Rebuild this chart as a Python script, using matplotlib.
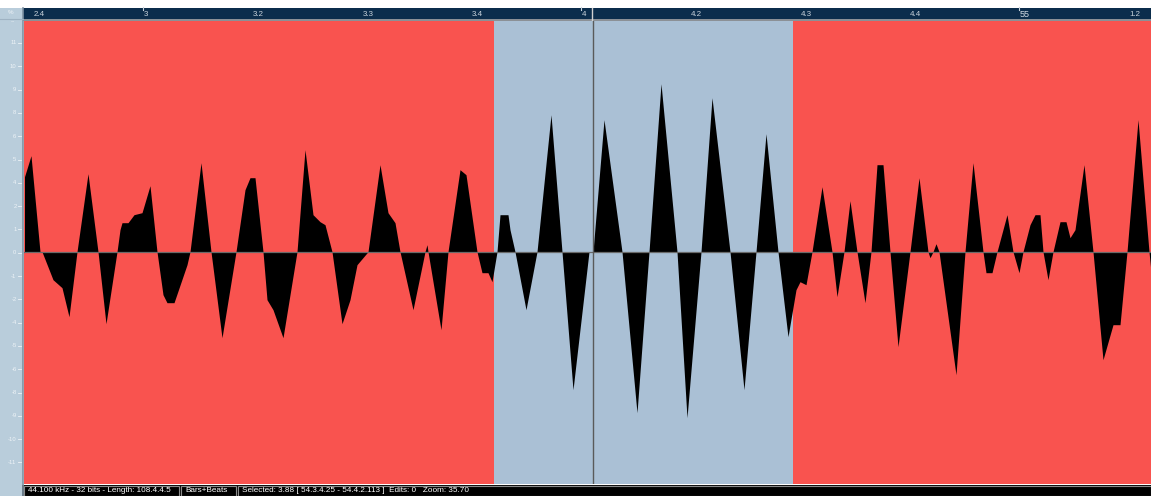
import numpy as np
import matplotlib.pyplot as plt
from matplotlib.patches import Rectangle

W, H = 1151, 496

# waveform outline: display column, level (px above zero line)
wave_col = [24.5, 31, 40, 42, 53, 62, 69, 77, 88, 98, 106, 117, 120, 122, 128, 134, 142, 150, 157,
            163, 167, 174, 187, 190, 201, 211, 222, 236, 245, 250, 255, 263, 267, 273, 283, 297,
            305, 313, 320, 325, 332, 342, 350, 357, 368, 380, 388, 395, 400, 413, 425, 427, 428,
            441, 448, 460, 466, 477, 482, 488, 492, 497, 500, 508, 510, 515, 526, 537, 551, 562,
            573, 589, 593, 604, 622, 637, 649, 661, 677, 687, 701, 712, 730, 744, 756, 766, 778,
            788, 796, 800, 806, 812, 822, 832, 837, 844, 850, 857, 865, 871, 877, 883, 890, 898,
            910, 919, 928, 930, 933, 936, 939, 956, 965, 973, 983, 986, 992, 997, 1007, 1013,
            1019, 1023, 1030, 1035, 1040, 1043, 1048, 1053, 1060, 1066, 1070, 1075, 1084, 1093,
            1103, 1113, 1120, 1127, 1138, 1149, 1151]
wave_lvl = [75, 96, 0, 0, -28, -36, -65, 0, 78, 0, -72, 0, 22, 29, 29, 37, 39, 66, 0,
            -43, -51, -51, -13, 0, 89, 0, -86, 0, 62, 74, 74, 0, -48, -58, -86, 0,
            102, 37, 30, 27, 0, -72, -48, -13, 0, 87, 39, 29, 0, -58, 0, 7, 0,
            -78, 0, 82, 77, 0, -21, -21, -30, 0, 37, 37, 22, 0, -58, 0, 137, 0,
            -138, 0, 0, 132, 0, -161, 0, 168, 0, -166, 0, 154, 0, -138, 0, 118, 0,
            -85, -38, -30, -33, 0, 65, 0, -45, 0, 51, 0, -51, 0, 87, 87, 0, -95,
            0, 74, 0, -6, 0, 8, 0, -123, 0, 89, 0, -21, -21, 0, 37, 0,
            -21, 0, 27, 37, 37, 0, -28, 0, 30, 30, 14, 22, 87, 0,
            -108, -73, -73, 0, 132, 0, -20]

sel_start, sel_end = 494, 793
cursor_col = 592.5

beat_labels = ['2.4', '3', '3.2', '3.3', '3.4', '4', '4.2', '4.3', '4.4', '55', '1.2']
bar_marks = ['3', '4', '55']
first_beat_col = 35.5
beat_cols = 109.5

level_labels = ['11', '10', '9', '8', '6', '5', '4', '2', '1', '0',
                '-1', '-2', '-4', '-5', '-6', '-8', '-9', '-10', '-11']

status_items = ['44.100 kHz - 32 bits - Length: 108.4.4.5', 'Bars+Beats',
                'Selected: 3.88 [ 54.3.4.25 - 54.4.2.113 ]  Edits: 0   Zoom: 35.70']
status_box_x = [24, 181, 238]
status_box_w = [155, 55, 913]

red = '#f9534f'
blue = '#aac0d5'
navy = '#0b2d4c'
side = '#b9cddb'
narrow = ['Liberation Sans Narrow', 'Liberation Sans', 'DejaVu Sans']

fig = plt.figure(figsize=(W / 100, H / 100), dpi=100, facecolor='white')

# screen chrome in pixel coordinates
bg = fig.add_axes([0, 0, 1, 1])
bg.set_xlim(0, W)
bg.set_ylim(H, 0)
bg.axis('off')

bg.add_patch(Rectangle((0, 8), 23, H - 8, color=side, lw=0))
bg.add_patch(Rectangle((23, 8), W - 23, 10.5, color=navy, lw=0))
bg.add_patch(Rectangle((23, 18.5), W - 23, 2.5, color='#8b9096', lw=0))
bg.plot([23, 23], [8, H], color='#7f93a3', lw=1.2)
bg.plot([0, 23], [18.5, 18.5], color='#9fb3c3', lw=0.8)
bg.text(11, 13, '%', color='#eef3f7', fontsize=4.5, ha='center', va='center', family=narrow)
bg.text(13, 22, '--', color='#eef3f7', fontsize=4.5, ha='center', va='center', family=narrow)

# beat ruler
for i, lab in enumerate(beat_labels):
    c = first_beat_col + i * beat_cols
    big = lab == '55'
    bg.text(c - 1.5, 14.5, lab, color='#d3dbe3' if big else '#c9d3dc',
            fontsize=6.5 if big else 5.7, ha='left', va='center', family=narrow)
    if lab in bar_marks:
        bg.plot([c - 1.5, c - 1.5], [7, 10], color='#c9d3dc', lw=0.8)
bg.plot([cursor_col, cursor_col], [8, 21], color='#d0d0d0', lw=1)

# level ruler
for i, lab in enumerate(level_labels):
    y = 43 + i * 23.3
    bg.text(16.5, y, lab, color='#eef3f7', fontsize=4.2, ha='right', va='center', family=narrow)
    bg.plot([18, 21.5], [y, y], color='#eef3f7', lw=0.6)

# status bar
bg.add_patch(Rectangle((22, 484.5), W - 22, H - 484.5, color='#0c0c0c', lw=0))
for x0, w, txt in zip(status_box_x, status_box_w, status_items):
    bg.add_patch(Rectangle((x0, 485.5), w, 10, facecolor='black', edgecolor='#8a8a8a', lw=0.8))
    bg.text(x0 + 4, 491, txt, color='white', fontsize=5.85, ha='left', va='center', family=narrow)

# waveform view
ax = fig.add_axes([24 / W, (H - 484) / H, (W - 24) / W, (484 - 21) / H])
ax.set_facecolor(red)
ax.set_xlim(24, W)
ax.set_ylim(-232.3, 230.7)
ax.axvspan(sel_start, sel_end, color=blue, lw=0)
ax.fill_between(wave_col, 0, wave_lvl, color='black', lw=0)
ax.axhline(0, color='#6a6a6a', lw=0.9)
ax.axvline(cursor_col, color='#5a5a5a', lw=1)
ax.set_xticks([])
ax.set_yticks([])
for s in ax.spines.values():
    s.set_visible(False)

fig.savefig('out.png', dpi=100, facecolor='white')
